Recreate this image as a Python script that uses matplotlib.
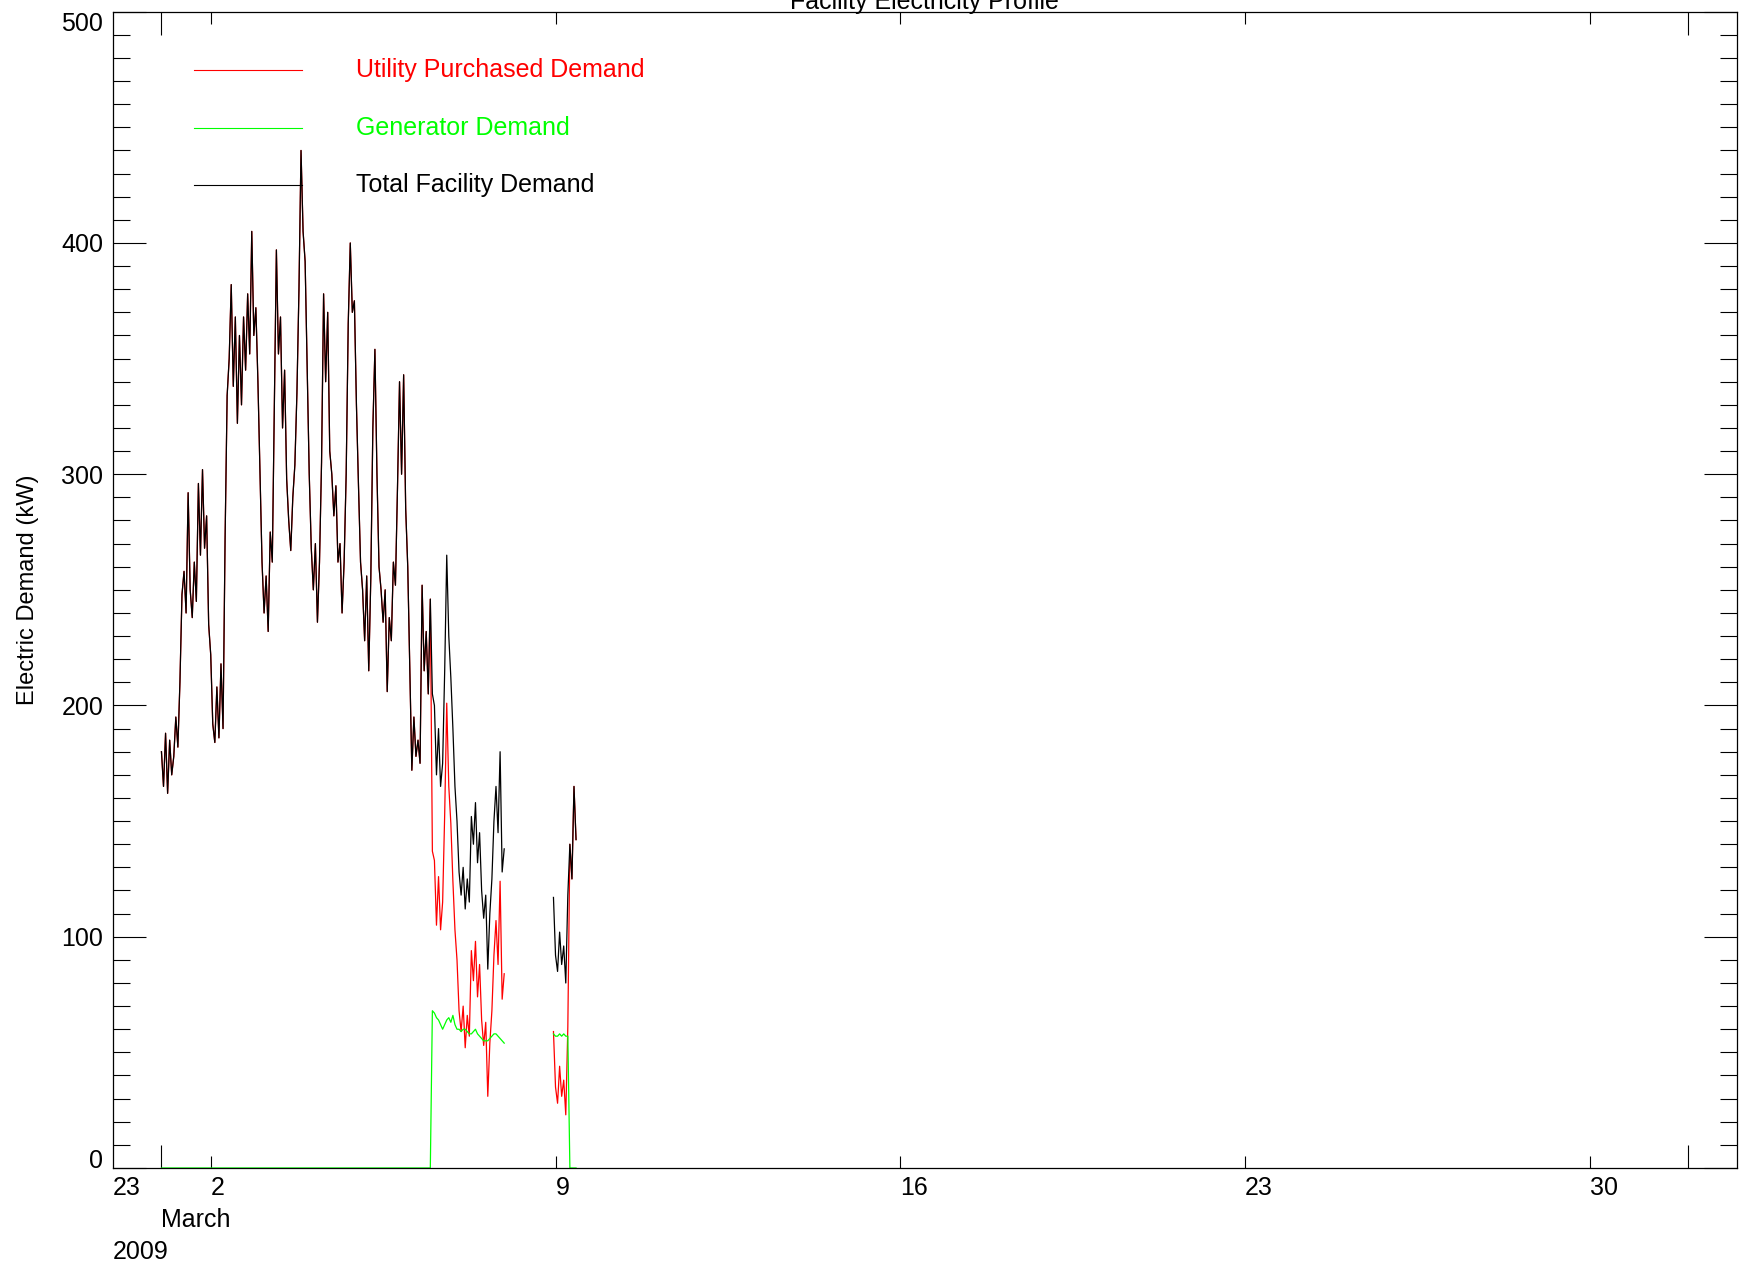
#!/usr/bin/env python
"""Facility electricity profile, March 2009: utility purchased, generator and
total facility demand (hourly, kW). Writes out.png."""

import numpy as np
import matplotlib
matplotlib.use("Agg")
import matplotlib.pyplot as plt
from matplotlib import transforms

plt.rcParams["font.family"] = ["Liberation Sans Narrow", "Liberation Sans", "DejaVu Sans"]
FS = 18

# hourly readings, first block starts 1 March 00:00 (x = days since 1 March)
SEG1_START = 0.0
total_seg1 = [
    180, 165, 188, 162, 185, 170, 178, 195, 182, 210, 248, 258, 240, 292, 250, 238, 262, 245, 296, 265, 302, 268, 282, 235,
    222, 192, 184, 208, 186, 218, 190, 272, 334, 350, 382, 338, 368, 322, 360, 330, 368, 345, 378, 352, 405, 360, 372, 340,
    300, 262, 240, 256, 232, 275, 262, 330, 397, 352, 368, 320, 345, 298, 280, 267, 290, 304, 335, 380, 440, 405, 392, 345,
    300, 268, 250, 270, 236, 262, 305, 378, 340, 370, 310, 300, 282, 295, 262, 270, 240, 262, 300, 365, 400, 370, 375, 330,
    295, 262, 250, 228, 256, 215, 255, 320, 354, 300, 260, 250, 236, 250, 206, 238, 228, 262, 252, 294, 340, 300, 343, 285,
    260, 215, 172, 195, 178, 185, 175, 252, 215, 232, 205, 246, 205, 200, 170, 190, 165, 175, 215, 265, 230, 212, 190, 165,
    150, 128, 118, 130, 112, 125, 115, 152, 140, 158, 132, 145, 120, 108, 118, 86, 110, 125, 150, 165, 145, 180, 128, 138,
]
gen_seg1 = [0] * 132 + [
    68, 67, 65, 64, 62, 60, 62, 64, 65, 63, 66, 62,
    60, 60, 59, 60, 60, 59, 58, 58, 59, 60, 58, 57, 56, 55, 55, 55, 56, 57, 58, 58, 57, 56, 55, 54,
]

# second block starts 8 March 23:00
SEG2_START = 191 / 24
total_seg2 = [117, 92, 85, 102, 88, 96, 80, 118, 140, 125, 165, 142]
gen_seg2 = [58, 57, 57, 58, 57, 58, 57, 57, 0, 0, 0, 0]

day_ticks = [1, 8, 15, 22, 29]
day_labels = ["2", "9", "16", "23", "30"]
month_ticks = [0, 31]

legend_labels = ["Utility Purchased Demand", "Generator Demand", "Total Facility Demand"]
colors = ["#ff0000", "#00ff00", "#000000"]


def series(start, total, gen):
    t = start + np.arange(len(total)) / 24
    total = np.array(total, float)
    gen = np.array(gen, float)
    return t, total - gen, gen, total


def main():
    fig = plt.figure(figsize=(17.41, 12.72), dpi=100)
    ax = fig.add_axes([0.06473, 0.08176, 0.93280, 0.90904])

    gap = (np.array([7.0]), np.array([np.nan]), np.array([np.nan]), np.array([np.nan]))
    parts = [series(SEG1_START, total_seg1, gen_seg1), gap,
             series(SEG2_START, total_seg2, gen_seg2)]
    t = np.concatenate([p[0] for p in parts])
    util = np.concatenate([p[1] for p in parts])
    gen = np.concatenate([p[2] for p in parts])
    tot = np.concatenate([p[3] for p in parts])

    for y, c in zip([util, gen, tot], colors):
        ax.plot(t, y, color=c, lw=0.9)

    ax.set_xlim(-0.99, 31.98)
    ax.set_ylim(0, 500)

    ax.set_yticks(np.arange(0, 501, 100))
    ax.set_yticks(np.arange(0, 501, 10), minor=True)
    ax.set_yticklabels([str(v) for v in range(0, 501, 100)], fontsize=FS)
    yt = ax.yaxis.get_major_ticks()
    yt[0].label1.set_verticalalignment("baseline")
    yt[-1].label1.set_verticalalignment("top")
    ax.tick_params(axis="y", which="major", direction="in", length=23.8,
                   width=0.8, left=True, right=True, pad=6.8)
    ax.tick_params(axis="y", which="minor", direction="in", length=12.2,
                   width=0.8, left=True, right=True)

    ax.set_xticks(month_ticks)
    ax.set_xticks(day_ticks, minor=True)
    ax.set_xticklabels([], minor=False)
    ax.set_xticklabels([], minor=True)
    ax.tick_params(axis="x", which="major", direction="in", length=16.5,
                   width=0.8, top=True, bottom=True)
    ax.tick_params(axis="x", which="minor", direction="in", length=8.3,
                   width=0.8, top=True, bottom=True)

    # IDL-style date labels: left aligned at the ticks, three rows
    bt = transforms.blended_transform_factory(ax.transData, ax.transAxes)
    bta = ax.transAxes
    row1, row2, row3 = -0.0173, -0.0450, -0.0726
    for x, lab in zip(day_ticks, day_labels):
        ax.text(x, row1, lab, transform=bt, ha="left", va="center", fontsize=FS)
    ax.text(0, row1, "23", transform=bta, ha="left", va="center", fontsize=FS)
    ax.text(0, row2, "March", transform=bt, ha="left", va="center", fontsize=FS)
    ax.text(0, row3, "2009", transform=bta, ha="left", va="center", fontsize=FS)

    ax.set_ylabel("Electric Demand (kW)", fontsize=17)
    ax.yaxis.set_label_coords(-0.0454, 0.5)

    for s in ax.spines.values():
        s.set_linewidth(0.9)

    # legend drawn by hand, as in the original
    for lab, c, yy in zip(legend_labels, colors, [0.9496, 0.8994, 0.8501]):
        ax.plot([0.050, 0.1166], [yy, yy], color=c, lw=0.8, transform=bta)
        ax.text(0.1498, yy, lab, color=c, transform=bta, ha="left",
                va="center", fontsize=FS)

    # title sits mostly above the canvas, as in the original export
    fig.text(0.5311, 1 - 9 / 1272, "Facility Electricity Profile", ha="center",
             va="baseline", fontsize=FS)

    fig.savefig("out.png", dpi=100)


if __name__ == "__main__":
    main()
